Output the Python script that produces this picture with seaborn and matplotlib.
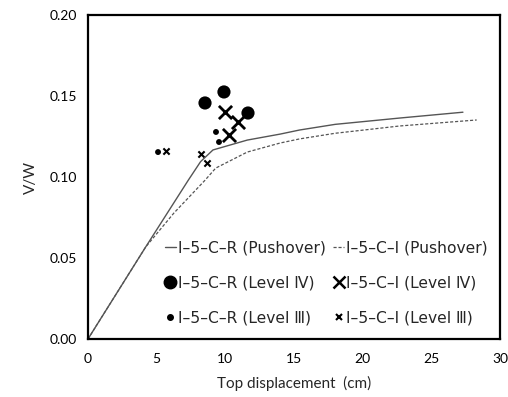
import matplotlib
matplotlib.use("Agg")
import matplotlib.pyplot as plt
import seaborn as sns
import pandas as pd
from matplotlib.lines import Line2D

# Pushover curves
r_push_x = [0, 4.2, 7.3, 8.2, 9.1, 11.6, 14.0, 15.4, 18.0, 22.7, 27.3]
r_push_y = [0, 0.0568, 0.098, 0.1095, 0.1167, 0.1228, 0.1265, 0.129, 0.1325, 0.1364, 0.140]
i_push_x = [0, 4.2, 6.26, 8.52, 9.3, 11.6, 14.0, 15.4, 18.0, 22.7, 28.3]
i_push_y = [0, 0.0568, 0.0778, 0.098, 0.1055, 0.1154, 0.121, 0.1235, 0.127, 0.1315, 0.1352]

# Level IV points
r4_x = [8.52, 9.9, 11.65]
r4_y = [0.1457, 0.1525, 0.1395]
i4_x = [9.98, 10.9, 10.27]
i4_y = [0.1401, 0.134, 0.1259]
# Level III points
r3_x = [5.1, 9.32, 9.54]
r3_y = [0.1154, 0.1278, 0.1216]
i3_x = [5.68, 8.23, 8.67]
i3_y = [0.116, 0.1142, 0.1086]

x_ticks = [0, 5, 10, 15, 20, 25, 30]
y_ticks = [0.00, 0.05, 0.10, 0.15, 0.20]

sns.set_style("white")
plt.rcParams['font.family'] = ['Lato', 'DejaVu Sans']

fig = plt.figure(figsize=(5.08, 3.97), dpi=100)
ax = fig.add_axes([0.1732, 0.1461, 0.8111, 0.8161])

df_r = pd.DataFrame({"x": r_push_x, "y": r_push_y})
df_i = pd.DataFrame({"x": i_push_x, "y": i_push_y})
sns.lineplot(data=df_r, x="x", y="y", ax=ax, color="#555555", lw=1.0, sort=False)
sns.lineplot(data=df_i, x="x", y="y", ax=ax, color="#555555", lw=0.9, ls=(0, (2.5, 1.5)), sort=False)

sns.scatterplot(x=r4_x, y=r4_y, ax=ax, color="black", s=90, marker="o", edgecolor="none")
sns.scatterplot(x=i4_x, y=i4_y, ax=ax, color="black", s=90, marker="x", linewidth=2.0)
sns.scatterplot(x=r3_x, y=r3_y, ax=ax, color="black", s=18, marker="o", edgecolor="none")
sns.scatterplot(x=i3_x, y=i3_y, ax=ax, color="black", s=20, marker="x", linewidth=1.5)

ax.set_xlim(0, 30)
ax.set_ylim(0, 0.20)
ax.set_xticks(x_ticks)
ax.set_yticks(y_ticks)
ax.set_xticklabels([str(v) for v in x_ticks])
ax.set_yticklabels([f"{v:.2f}" for v in y_ticks])
ax.tick_params(direction="in", length=4, width=0.8, labelsize=10, pad=8, colors="black")
ax.tick_params(axis="x", pad=10)
for s in ax.spines.values():
    s.set_color("black")
    s.set_linewidth(1.6)
ax.set_xlabel("Top displacement  (cm)", fontsize=11, labelpad=8)
ax.set_ylabel("V/W", fontsize=11, labelpad=8)

handles = [
    Line2D([], [], color="#555555", lw=1.0),
    Line2D([], [], marker="o", color="black", ls="none", markersize=9),
    Line2D([], [], marker="o", color="black", ls="none", markersize=4),
    Line2D([], [], color="#555555", lw=0.9, ls=(0, (2.5, 1.5))),
    Line2D([], [], marker="x", color="black", ls="none", markersize=9, markeredgewidth=1.8),
    Line2D([], [], marker="x", color="black", ls="none", markersize=4.5, markeredgewidth=1.5),
]
labels = [
    "I–5–C–R (Pushover)", "I–5–C–R (Level Ⅳ)", "I–5–C–R (Level Ⅲ)",
    "I–5–C–I (Pushover)", "I–5–C–I (Level Ⅳ)", "I–5–C–I (Level Ⅲ)",
]
leg = ax.legend(handles, labels, ncol=2, loc="upper left", bbox_to_anchor=(0.187, 0.305),
                frameon=False, borderpad=0, borderaxespad=0,
                handlelength=0.7, handletextpad=0.15, columnspacing=0.45,
                labelspacing=1.3, prop={"family": ["DejaVu Sans", "Noto Sans CJK KR"], "size": 11.2})

fig.savefig("out.png", dpi=100)
